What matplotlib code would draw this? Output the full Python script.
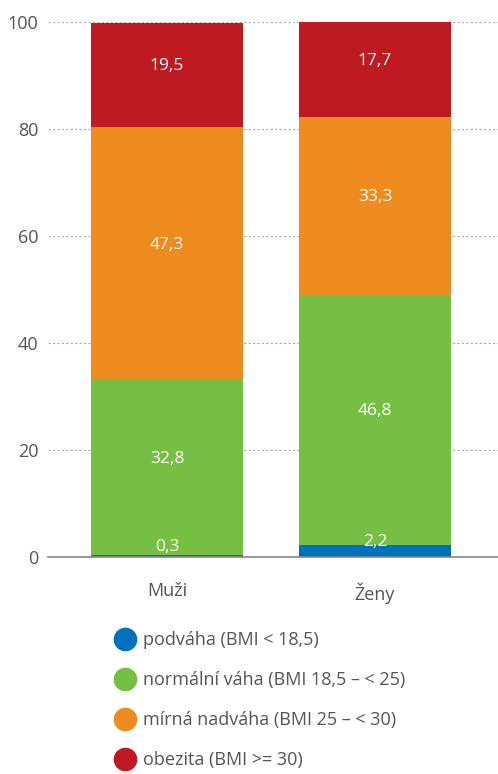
import numpy as np
import matplotlib
matplotlib.use('Agg')
import matplotlib.pyplot as plt
from matplotlib.lines import Line2D

plt.rcParams['font.family'] = ['Open Sans', 'DejaVu Sans']

# data
groups = ['Muži', 'Ženy']
categories = ['podváha (BMI < 18,5)', 'normální váha (BMI 18,5 – < 25)',
              'mírná nadváha (BMI 25 – < 30)', 'obezita (BMI >= 30)']
podvaha = [0.3, 2.2]
normalni = [32.8, 46.8]
nadvaha = [47.3, 33.3]
obezita = [19.5, 17.7]
colors = ['#0071BC', '#77BF44', '#EE8B1F', '#BD1A21']
y_ticks = [0, 20, 40, 60, 80, 100]

fig = plt.figure(figsize=(4.98, 7.74), dpi=100)
ax = fig.add_axes([48 / 498, 1 - 557 / 774, 1 - 48 / 498, 535 / 774])

x = np.arange(len(groups))
bottom = np.zeros(len(groups))
for vals, col in zip([podvaha, normalni, nadvaha, obezita], colors):
    vals = np.array(vals)
    ax.bar(x, vals, 0.73, bottom=bottom, color=col, zorder=2)
    for xi, b, v in zip(x, bottom, vals):
        # popisky jsou v originale mirne nad stredem useku
        ypos = max(b + v / 2 + 2.0, 1.2)
        ax.text(xi, ypos, f"{v:.1f}".replace('.', ','), ha='center', va='center_baseline',
                color='white', fontsize=12.5, zorder=3)
    bottom += vals

ax.set_xlim(-0.572, 1.591)
ax.set_ylim(0, 100)
ax.set_yticks(y_ticks)
ax.set_yticklabels([str(t) for t in y_ticks])
ax.set_xticks(x)
ax.set_xticklabels(groups)
ax.tick_params(axis='both', length=0, labelsize=13, colors='#555555')
ax.tick_params(axis='y', pad=7)
ax.tick_params(axis='x', pad=18)
for t in y_ticks[1:]:
    ax.axhline(t, color='#aaaaaa', linestyle=(0, (2, 2)), linewidth=0.8, zorder=1)
for s in ['top', 'right', 'left']:
    ax.spines[s].set_visible(False)
ax.spines['bottom'].set_color('#888888')
ax.spines['bottom'].set_linewidth(1.2)

handles = [Line2D([0], [0], marker='o', linestyle='none', markersize=16,
                  markerfacecolor=c, markeredgecolor=c) for c in colors]
fig.legend(handles, categories, loc='upper left', bbox_to_anchor=(109 / 498, 1 - 624 / 774),
           frameon=False, fontsize=13, labelspacing=1.22, handlelength=1.0,
           handletextpad=0.5, labelcolor='#555555', borderaxespad=0)

plt.savefig('out.png', dpi=100)
plt.close()
